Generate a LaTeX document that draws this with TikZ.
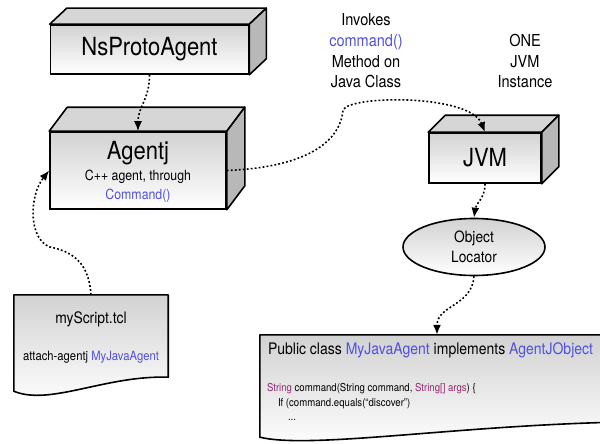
\documentclass[tikz,border=0pt]{standalone}
\usepackage{fontspec}
\setmainfont{TeX Gyre Heros}[FakeStretch=0.88]
\usetikzlibrary{arrows.meta,shapes.geometric,positioning}

\definecolor{callblue}{RGB}{80,80,225}
\definecolor{typepurple}{RGB}{150,40,110}
\definecolor{topgray}{RGB}{214,214,214}
\definecolor{sidegray}{RGB}{184,184,184}
\definecolor{facegray}{RGB}{210,210,210}

\tikzset{
  front/.style={draw, line width=1.6pt, rectangle, top color=facegray, bottom color=white, inner sep=0pt},
  topface/.style={fill=topgray, draw, line width=1.6pt, line join=round},
  sideface/.style={fill=sidegray, draw, line width=1.6pt, line join=round},
  papersheet/.style={draw, line width=1.6pt, line join=round, top color=facegray, bottom color=white},
  blob/.style={ellipse, draw, line width=1.6pt, top color=facegray, bottom color=white, inner sep=0pt},
  link/.style={line width=1.6pt, dash pattern=on 1.8pt off 2.2pt, -{Latex[length=10pt,width=8pt]}},
  bigtext/.style={font=\fontsize{25}{28}\selectfont},
  boxline/.style={anchor=base, inner sep=0pt, font=\fontsize{14}{16}\selectfont},
  codeline/.style={anchor=base west, inner sep=0pt, font=\fontsize{10.9}{13}\selectfont},
}

% top and side faces of a box, drawn behind its front node
\newcommand{\cubefaces}[3]{%
  \draw[topface] (#1.north west) -- ++(#2,-#3) -- ([shift={(#2,-#3)}]#1.north east) -- (#1.north east) -- cycle;
  \draw[sideface] (#1.north east) -- ++(#2,-#3) -- ([shift={(#2,-#3)}]#1.south east) -- (#1.south east) -- cycle;
}

\begin{document}
\begin{tikzpicture}[x=1pt, y=-1pt]
  \useasboundingbox (0,0) rectangle (600,444);
  \clip (0,0) rectangle (600,444);

  % boxes
  \node[front, bigtext, minimum width=198pt, minimum height=49pt] (ns) at (149.5,49.5) {NsProtoAgent};
  \cubefaces{ns}{17}{16}
  \node[front, minimum width=176pt, minimum height=77pt] (aj) at (138,170.5) {};
  \cubefaces{aj}{18}{24}
  \node[boxline, bigtext] (ajname) at ([shift={(0,28)}]aj.north) {Agentj};
  \node[boxline] (ajnote) at ([shift={(0,49)}]aj.north) {C++ agent, through};
  \node[boxline, text=callblue] (ajcall) at ([shift={(0,68)}]aj.north) {Command()};
  \node[front, bigtext, minimum width=112pt, minimum height=50pt] (jvm) at (485,158) {JVM};
  \cubefaces{jvm}{17}{17}

  \node[blob, minimum width=142pt, minimum height=57pt, align=center, font=\fontsize{15.6}{20}\selectfont] (ol) at (474,247) {Object\\Locator};

  % notes
  \node[align=center, font=\fontsize{16.5}{20.7}\selectfont] (invokes) at (366,51)
    {Invokes\\\textcolor{callblue}{command()}\\Method on\\Java Class};
  \node[align=center, font=\fontsize{16.5}{20.7}\selectfont] (onejvm) at (525,61) {ONE\\JVM\\Instance};

  % tcl script
  \node[minimum width=154pt, minimum height=82pt, inner sep=0pt] (sc) at (91,336) {};
  \draw[papersheet] (sc.north west) -- (sc.north east) -- (sc.south east)
    .. controls +(-63,-2) and +(36,15) .. ([shift={(0,14)}]sc.south west) -- cycle;
  \node[font=\fontsize{15.8}{18}\selectfont] (scname) at ([shift={(0,25)}]sc.north) {myScript.tcl};
  \node[font=\fontsize{12.8}{15}\selectfont] (scline) at ([shift={(0,62)}]sc.north) {attach-agentj \textcolor{callblue}{MyJavaAgent}};

  % java source
  \node[minimum width=354pt, minimum height=87pt, inner sep=0pt] (jd) at (437,378.5) {};
  \draw[papersheet] (jd.north west) -- (jd.north east) -- (jd.south east)
    .. controls +(-164,4) and +(50,12) .. ([shift={(0,15)}]jd.south west) -- cycle;
  \node[anchor=base west, inner sep=0pt, font=\fontsize{15.9}{18}\selectfont] (jdtitle) at ([shift={(8,20)}]jd.north west)
    {Public class \textcolor{callblue}{MyJavaAgent} implements \textcolor{callblue}{AgentJObject}};
  \node[codeline] (code1) at ([shift={(7,57)}]jd.north west)
    {\textcolor{typepurple}{String} command(String command, \textcolor{typepurple}{String[] args}) \{};
  \node[codeline] (code2) at ([shift={(18,71.5)}]jd.north west) {If (command.equals(“discover”)};
  \node[codeline] (code3) at ([shift={(28,85.5)}]jd.north west) {...};

  % connectors
  \draw[link] (ns.south) .. controls +(0,25) and +(0,-25) .. (aj.north);
  \draw[link] (sc.north) .. controls +(-2,-30) and +(25,5) .. (50,247)
    .. controls +(-22,-8) and +(-20,25) .. (aj.west);
  \draw[link] (aj.east) .. controls +(74,-3) and +(-3,35) .. (343,110)
    .. controls +(7,-15) and +(-15,-38) .. (jvm.north);
  \draw[link] (jvm.south) .. controls +(0,15) and +(2,-15) .. (ol.north);
  \draw[link] (ol.south) .. controls +(-2,30) and +(0,-30) .. (jd.north);
\end{tikzpicture}
\end{document}
